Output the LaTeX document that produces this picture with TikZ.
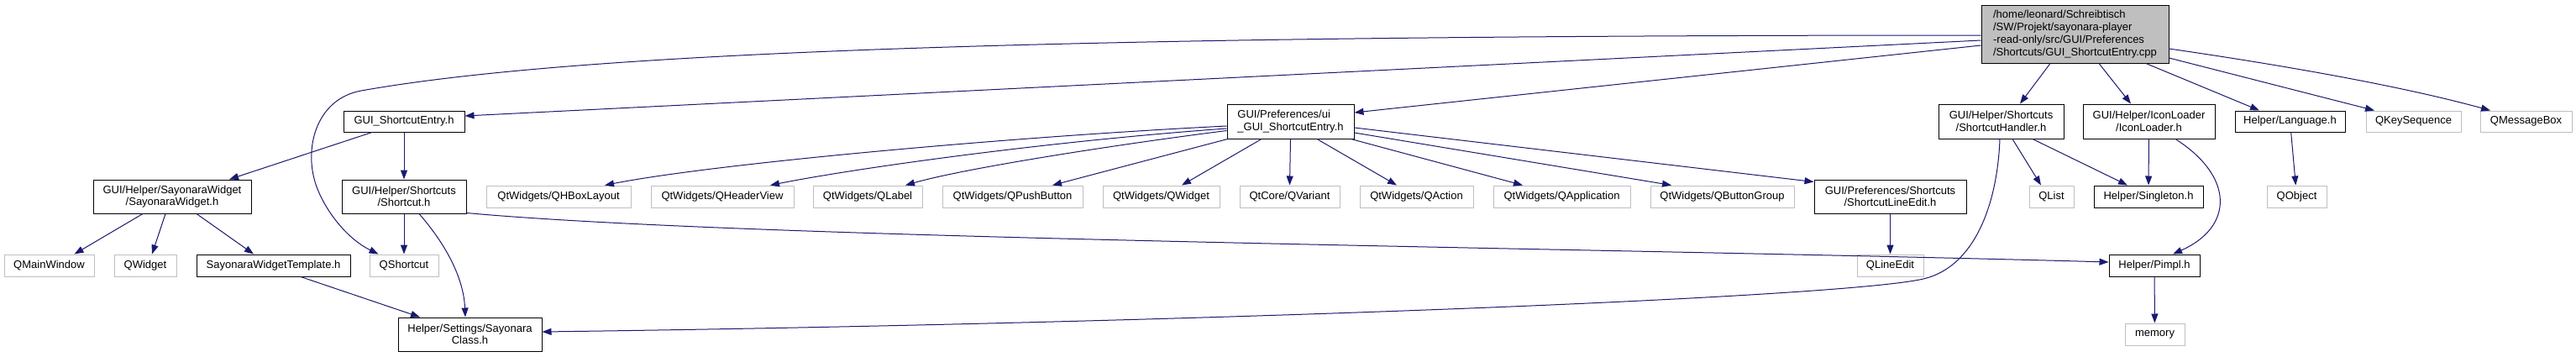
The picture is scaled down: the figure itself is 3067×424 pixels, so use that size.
\documentclass[tikz,border=0pt]{standalone}
\usepackage{fontspec}
\setmainfont{Liberation Sans}
\usetikzlibrary{arrows.meta,calc}
\definecolor{navyedge}{HTML}{191970}
\definecolor{grey75}{HTML}{BFBFBF}
\newcommand\dxfont{\fontsize{13}{14.5}\selectfont}
\tikzset{
  nb/.style={draw=black, line width=1pt, inner sep=0pt, align=center, font=\dxfont, fill=white},
  ng/.style={draw=grey75, line width=1pt, inner sep=0pt, align=center, font=\dxfont, fill=white},
  arr/.style={draw=navyedge, line width=1pt, -{Triangle[length=11pt,width=8pt]}},
}
\begin{document}
\begin{tikzpicture}[x=1pt,y=-1pt]
\useasboundingbox (0,0) rectangle (3067,424);
% row 0
\node[nb, fill=grey75, align=left, minimum width=223pt, minimum height=69pt, font=\fontsize{13}{15}\selectfont] (main) at (2470.5,40.5)
  {/home/leonard/Schreibtisch\\/SW/Projekt/sayonara-player\\-read-only/src/GUI/Preferences\\/Shortcuts/GUI\_ShortcutEntry.cpp};
% row 1
\node[nb, minimum width=144pt, minimum height=25pt] (gse) at (481,144.5) {GUI\_ShortcutEntry.h};
\node[nb, align=left, minimum width=151pt, minimum height=41pt] (ui) at (1536.5,144.5) {GUI/Preferences/ui\\\_GUI\_ShortcutEntry.h};
\node[nb, minimum width=149pt, minimum height=41pt] (sh) at (2382.5,144.5) {GUI/Helper/Shortcuts\\/ShortcutHandler.h};
\node[nb, minimum width=157pt, minimum height=41pt] (il) at (2558.5,144.5) {GUI/Helper/IconLoader\\/IconLoader.h};
\node[nb, minimum width=131pt, minimum height=25pt] (lang) at (2726.5,144.5) {Helper/Language.h};
\node[ng, minimum width=113pt, minimum height=25pt] (qks) at (2873.5,144.5) {QKeySequence};
\node[ng, minimum width=109pt, minimum height=25pt] (qmb) at (3007.5,144.5) {QMessageBox};
% row 2
\node[nb, minimum width=188pt, minimum height=40pt] (sw) at (205,234) {GUI/Helper/SayonaraWidget\\/SayonaraWidget.h};
\node[nb, minimum width=148pt, minimum height=40pt] (sc) at (481,234) {GUI/Helper/Shortcuts\\/Shortcut.h};
\node[ng, minimum width=172pt, minimum height=26pt] (hbox) at (665,234) {QtWidgets/QHBoxLayout};
\node[ng, minimum width=170pt, minimum height=26pt] (hv) at (860,234) {QtWidgets/QHeaderView};
\node[ng, minimum width=130pt, minimum height=26pt] (lbl) at (1033,234) {QtWidgets/QLabel};
\node[ng, minimum width=167pt, minimum height=26pt] (pb) at (1205.5,234) {QtWidgets/QPushButton};
\node[ng, minimum width=139pt, minimum height=26pt] (qw2) at (1382.5,234) {QtWidgets/QWidget};
\node[ng, minimum width=119pt, minimum height=26pt] (var) at (1535.5,234) {QtCore/QVariant};
\node[ng, minimum width=135pt, minimum height=26pt] (act) at (1686.5,234) {QtWidgets/QAction};
\node[ng, minimum width=163pt, minimum height=26pt] (app) at (1859.5,234) {QtWidgets/QApplication};
\node[ng, minimum width=171pt, minimum height=26pt] (bg) at (2050.5,234) {QtWidgets/QButtonGroup};
\node[nb, minimum width=181pt, minimum height=40pt] (sle) at (2250.5,234) {GUI/Preferences/Shortcuts\\/ShortcutLineEdit.h};
\node[ng, minimum width=53pt, minimum height=26pt] (qlist) at (2442.5,234) {QList};
\node[nb, minimum width=130pt, minimum height=26pt] (single) at (2558,234) {Helper/Singleton.h};
\node[ng, minimum width=71pt, minimum height=26pt] (qobj) at (2734.5,234) {QObject};
% row 3
\node[ng, minimum width=107pt, minimum height=26pt] (qmw) at (58.5,316) {QMainWindow};
\node[ng, minimum width=74pt, minimum height=26pt] (qwid) at (173,316) {QWidget};
\node[nb, minimum width=183pt, minimum height=26pt] (swt) at (325.5,316) {SayonaraWidgetTemplate.h};
\node[ng, minimum width=82pt, minimum height=26pt] (qsc) at (481,316) {QShortcut};
\node[ng, minimum width=79pt, minimum height=26pt] (qle) at (2250.5,316) {QLineEdit};
\node[nb, minimum width=108pt, minimum height=26pt] (pimpl) at (2565,316) {Helper/Pimpl.h};
% row 4
\node[nb, minimum width=171pt, minimum height=40pt] (sclass) at (559.5,398) {Helper/Settings/Sayonara\\Class.h};
\node[ng, minimum width=71pt, minimum height=26pt] (mem) at (2565.5,398) {memory};

% edges from main
\draw[arr] ($(main.west)+(0,1.5)$) .. controls (1300,42) and (700,60) .. (430,108)
  .. controls (375,118) and (360,180) .. (378,225)
  .. controls (390,255) and (415,285) .. ($(qsc.north west)+(11,0)$);
\draw[arr] ($(main.west)+(0,7.5)$) -- ($(gse.east)+(0,-6.5)$);
\draw[arr] ($(main.west)+(0,13.5)$) -- ($(ui.east)+(0,-10.5)$);
\draw[arr] ($(main.south)+(-29.5,0)$) -- ($(sh.north)+(22.5,0)$);
\draw[arr] ($(main.south)+(28.5,0)$) -- ($(il.north)+(-21.5,0)$);
\draw[arr] ($(main.south)+(84.5,0)$) -- ($(lang.north)+(-36.5,0)$);
\draw[arr] ($(main.east)+(0,28.5)$) -- ($(qks.north)+(-46.5,0)$);
\draw[arr] ($(main.east)+(0,17.5)$) .. controls (2700,75) and (2850,100) .. ($(qmb.north)+(-42.5,0)$);
% GUI_ShortcutEntry.h
\draw[arr] ($(gse.south)+(-38,0)$) -- ($(sw.north)+(68,0)$);
\draw[arr] (gse) -- (sc);
% SayonaraWidget
\draw[arr] ($(sw.south)+(-35,0)$) -- ($(qmw.north)+(30,0)$);
\draw[arr] ($(sw.south)+(-8,0)$) -- ($(qwid.north)+(8,0)$);
\draw[arr] ($(sw.south)+(29,0)$) -- ($(swt.north)+(-23.5,0)$);
\draw[arr] ($(swt.south)+(32.5,0)$) -- ($(sclass.north)+(-59.5,0)$);
% Shortcut.h
\draw[arr] (sc) -- (qsc);
\draw[arr] ($(sc.south)+(18,0)$) .. controls (530,290) and (552,330) .. ($(sclass.north)+(-5.5,0)$);
\draw[arr] ($(sc.south east)+(0,-1)$) .. controls (900,285) and (1900,295) .. ($(pimpl.west)+(0,-4)$);
% ui_GUI_ShortcutEntry.h
\draw[arr] ($(ui.west)+(0,5.5)$) .. controls (1200,163) and (850,195) .. ($(hbox.north)+(55,0)$);
\draw[arr] ($(ui.west)+(0,8.5)$) .. controls (1250,168) and (1020,200) .. ($(hv.north)+(57,0)$);
\draw[arr] ($(ui.west)+(0,11)$) .. controls (1330,172) and (1150,200) .. ($(lbl.north)+(45,0)$);
\draw[arr] ($(ui.south west)+(1,0)$) -- ($(pb.north)+(47.5,0)$);
\draw[arr] ($(ui.south)+(-34.5,0)$) -- ($(qw2.north)+(24.5,0)$);
\draw[arr] (ui.south) -- (var.north);
\draw[arr] ($(ui.south)+(31.5,0)$) -- ($(act.north)+(-23.5,0)$);
\draw[arr] ($(ui.south east)+(-4,0)$) -- ($(app.north)+(-46.5,0)$);
\draw[arr] ($(ui.east)+(0,13.5)$) -- ($(bg.north)+(-60.5,0)$);
\draw[arr] ($(ui.east)+(0,7.5)$) -- ($(sle.north west)+(0,3)$);
\draw[arr] (sle) -- (qle);
% ShortcutHandler
\draw[arr] ($(sh.south)+(13.5,0)$) -- ($(qlist.north)+(-12.5,0)$);
\draw[arr] ($(sh.south)+(37.5,0)$) -- ($(single.north)+(-25,0)$);
\draw[arr] ($(sh.south)+(-1.5,0)$) .. controls (2378,245) and (2350,318) .. (2290,332)
  .. controls (2190,355) and (1400,385) .. ($(sclass.east)+(0,-3)$);
% IconLoader
\draw[arr] (il) -- (single);
\draw[arr] ($(il.south)+(31.5,0)$) .. controls (2660,210) and (2660,270) .. ($(pimpl.north)+(22,0)$);
% Language, Pimpl
\draw[arr] (lang) -- (qobj);
\draw[arr] (pimpl) -- (mem);
\end{tikzpicture}
\end{document}
